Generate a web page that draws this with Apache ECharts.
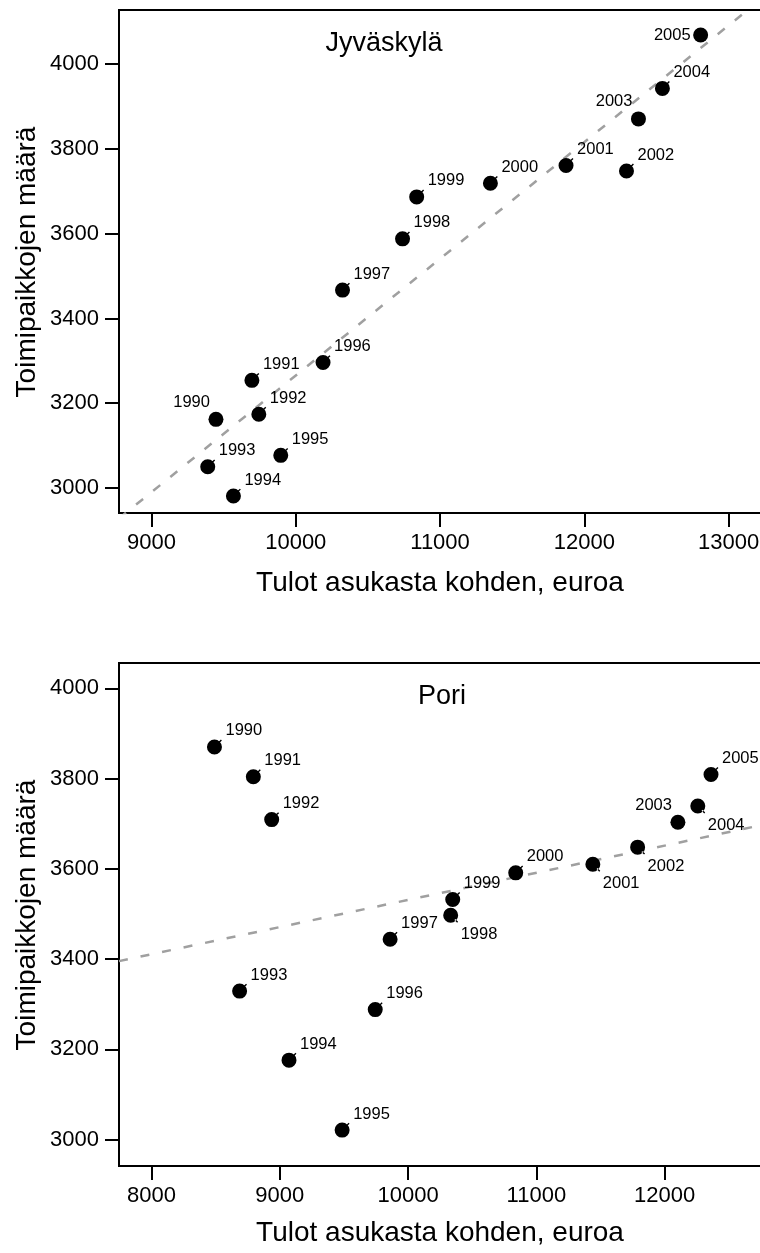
<!DOCTYPE html>
<html>
<head>
<meta charset="utf-8">
<script src="https://cdn.jsdelivr.net/npm/echarts@6/dist/echarts.min.js"></script>
<style>
  html, body { margin: 0; padding: 0; background: #fff; }
  #chart { width: 760px; height: 1253px; }
</style>
</head>
<body>
<div id="chart"></div>
<script>
// Years shown as point labels
const years = [1990, 1991, 1992, 1993, 1994, 1995, 1996, 1997,
               1998, 1999, 2000, 2001, 2002, 2003, 2004, 2005];

// Jyväskylä: income per inhabitant (EUR) and number of workplaces
const jyvIncome = [9447, 9696, 9744, 9390, 9568, 9896, 10189, 10324,
                   10740, 10838, 11349, 11873, 12292, 12375, 12541, 12806];
const jyvJobs = [3162, 3254, 3174, 3050, 2981, 3077, 3296, 3467,
                 3588, 3687, 3719, 3761, 3748, 3871, 3943, 4069];

// Pori: income per inhabitant (EUR) and number of workplaces
const poriIncome = [8491, 8794, 8937, 8687, 9072, 9486, 9744, 9860,
                    10332, 10348, 10839, 11440, 11789, 12103, 12258, 12361];
const poriJobs = [3870, 3804, 3709, 3329, 3176, 3021, 3288, 3444,
                  3497, 3532, 3591, 3610, 3648, 3703, 3739, 3809];

// Tick labels
const jyvXTicks = [9000, 10000, 11000, 12000, 13000];
const poriXTicks = [8000, 9000, 10000, 11000, 12000];
const yTicks = [3000, 3200, 3400, 3600, 3800, 4000];

// Label side per year (default: upper right)
const jyvLabelSide = { 2005: 'l', 2003: 'ul', 1990: 'ul' };
const poriLabelSide = { 2003: 'ul', 2004: 'lr', 2002: 'lr', 2001: 'lr', 1998: 'lr' };

// Filled dot with a short pointer stub towards its label
const DOT = 'M -7.5 0 A 7.5 7.5 0 1 0 7.5 0 A 7.5 7.5 0 1 0 -7.5 0 Z';
const STUB_UR = 'M 4.74 -3.75 L 7.42 -6.43 L 6.43 -7.42 L 3.75 -4.74 Z';
const STUB_LR = 'M 4.74 3.75 L 7.42 6.43 L 6.43 7.42 L 3.75 4.74 Z';

const LABEL_STYLES = {
  ur: { align: 'left', offset: [11, -16], symbol: 'path://' + DOT + ' ' + STUB_UR },
  ul: { align: 'right', offset: [-6, -17], symbol: 'circle' },
  lr: { align: 'left', offset: [10, 19], symbol: 'path://' + DOT + ' ' + STUB_LR },
  l:  { align: 'right', offset: [-10, 0], symbol: 'circle' }
};

const FONT = '"Liberation Sans", Arial, Helvetica, sans-serif';

// Least-squares fit y = a + b x
function fit(xs, ys) {
  const n = xs.length;
  const mx = xs.reduce((s, v) => s + v, 0) / n;
  const my = ys.reduce((s, v) => s + v, 0) / n;
  let sxy = 0, sxx = 0;
  for (let i = 0; i < n; i++) {
    sxy += (xs[i] - mx) * (ys[i] - my);
    sxx += (xs[i] - mx) * (xs[i] - mx);
  }
  const b = sxy / sxx;
  return { a: my - b * mx, b: b };
}

function pointData(xs, ys, sides) {
  return years.map((yr, i) => {
    const st = LABEL_STYLES[sides[yr] || 'ur'];
    return {
      value: [xs[i], ys[i], yr],
      symbol: st.symbol,
      label: { align: st.align, offset: st.offset }
    };
  });
}

function fitLine(xs, ys, xmin, xmax) {
  const f = fit(xs, ys);
  return [[xmin, f.a + f.b * xmin], [xmax, f.a + f.b * xmax]];
}

const panels = [
  { income: jyvIncome, jobs: jyvJobs, sides: jyvLabelSide, xTicks: jyvXTicks,
    xmin: 8775, xmax: 13245, ymin: 2941, ymax: 4128, top: 10 },
  { income: poriIncome, jobs: poriJobs, sides: poriLabelSide, xTicks: poriXTicks,
    xmin: 7747, xmax: 12774, ymin: 2941.5, ymax: 4056, top: 663 }
];

const axisLineStyle = { color: '#000', width: 2 };

const option = {
  backgroundColor: '#fff',
  animation: false,
  grid: panels.map(p => ({
    left: 119, top: p.top, width: 645, height: 503,
    outerBoundsMode: 'none', containLabel: false,
    show: true, borderColor: '#000', borderWidth: 2, backgroundColor: 'transparent'
  })),
  xAxis: panels.map((p, i) => ({
    type: 'value', gridIndex: i, min: p.xmin, max: p.xmax,
    axisLine: { show: true, lineStyle: axisLineStyle },
    axisTick: { show: true, length: 14, inside: false, lineStyle: axisLineStyle, customValues: p.xTicks },
    axisLabel: { customValues: p.xTicks, formatter: v => String(v), color: '#000',
                 fontSize: 22, fontFamily: FONT, margin: 19 },
    splitLine: { show: false }
  })),
  yAxis: panels.map((p, i) => ({
    type: 'value', gridIndex: i, min: p.ymin, max: p.ymax,
    axisLine: { show: true, lineStyle: axisLineStyle },
    axisTick: { show: true, length: 14, inside: false, lineStyle: axisLineStyle, customValues: yTicks },
    axisLabel: { customValues: yTicks, formatter: v => String(v), color: '#000',
                 fontSize: 22, fontFamily: FONT, margin: 20 },
    splitLine: { show: false }
  })),
  series: [],
  graphic: [
    { type: 'text', x: 384, y: 44, style: { text: 'Jyväskylä', font: '27px ' + FONT, fill: '#000', align: 'center', verticalAlign: 'middle' } },
    { type: 'text', x: 442, y: 697, style: { text: 'Pori', font: '27px ' + FONT, fill: '#000', align: 'center', verticalAlign: 'middle' } },
    { type: 'text', x: 440, y: 583, style: { text: 'Tulot asukasta kohden, euroa', font: '28px ' + FONT, fill: '#000', align: 'center', verticalAlign: 'middle' } },
    { type: 'text', x: 440, y: 1233, style: { text: 'Tulot asukasta kohden, euroa', font: '28px ' + FONT, fill: '#000', align: 'center', verticalAlign: 'middle' } },
    { type: 'text', x: 27, y: 262, rotation: Math.PI / 2, style: { text: 'Toimipaikkojen määrä', font: '28px ' + FONT, fill: '#000', align: 'center', verticalAlign: 'middle' } },
    { type: 'text', x: 27, y: 915, rotation: Math.PI / 2, style: { text: 'Toimipaikkojen määrä', font: '28px ' + FONT, fill: '#000', align: 'center', verticalAlign: 'middle' } }
  ]
};

panels.forEach((p, i) => {
  option.series.push({
    type: 'line', xAxisIndex: i, yAxisIndex: i,
    data: fitLine(p.income, p.jobs, p.xmin, p.xmax),
    symbol: 'none', clip: true, silent: true,
    lineStyle: { color: '#a0a0a0', width: 2.5, type: [9, 13] },
    z: 1
  });
  option.series.push({
    type: 'scatter', xAxisIndex: i, yAxisIndex: i,
    data: pointData(p.income, p.jobs, p.sides),
    symbolSize: 15,
    itemStyle: { color: '#000', opacity: 1 },
    label: {
      show: true, position: 'inside', verticalAlign: 'middle',
      formatter: d => String(d.value[2]),
      color: '#000', fontSize: 16.5, fontFamily: FONT
    },
    z: 3
  });
});

const chart = echarts.init(document.getElementById('chart'), null, { renderer: 'canvas' });
chart.setOption(option);
</script>
</body>
</html>
